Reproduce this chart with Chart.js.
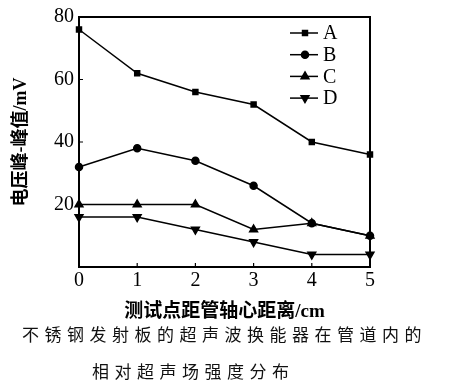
<!DOCTYPE html>
<html><head><meta charset="utf-8">
<script src="https://cdn.jsdelivr.net/npm/chart.js@4/dist/chart.umd.min.js"></script>
<style>
html,body{margin:0;padding:0;background:#fff;}
#wrap{position:relative;width:453px;height:383px;}
#box{position:absolute;left:0;top:0;width:453px;height:323px;}
.cap{position:absolute;font-family:"Noto Sans CJK SC",sans-serif;font-weight:400;font-size:17px;letter-spacing:5.5px;color:#111;white-space:nowrap;}
</style></head>
<body>
<div id="wrap">
<div id="box"><canvas id="c"></canvas></div>
<div class="cap" id="cap1" style="left:22px;top:321px;"></div>
<div class="cap" id="cap2" style="left:92px;top:358px;"></div>
</div>
<script>
const xValues = [0, 1, 2, 3, 4, 5];
const seriesA = [76, 62, 56, 52, 40, 36];
const seriesB = [32, 38, 34, 26, 14, 10];
const seriesC = [20, 20, 20, 12, 14, 10];
const seriesD = [16, 16, 12, 8, 4, 4];
const seriesNames = ["A", "B", "C", "D"];
const xTicks = [0, 1, 2, 3, 4, 5];
const yTicks = [0, 20, 40, 60, 80];
const xTitle = "测试点距管轴心距离/cm";
const yTitle = "电压峰-峰值/mV";
const caption1 = "不锈钢发射板的超声波换能器在管道内的";
const caption2 = "相对超声场强度分布";

document.getElementById('cap1').textContent = caption1;
document.getElementById('cap2').textContent = caption2;

const styles = [
  {pointStyle: 'rect', rotation: 0, radius: 3.5},
  {pointStyle: 'circle', rotation: 0, radius: 3.5},
  {pointStyle: 'triangle', rotation: 0, radius: 4.5},
  {pointStyle: 'triangle', rotation: 180, radius: 4.5}
];
const allSeries = [seriesA, seriesB, seriesC, seriesD];
const datasets = allSeries.map((s, i) => ({
  label: seriesNames[i],
  data: xValues.map((x, j) => ({x: x, y: s[j]})),
  borderColor: '#000',
  backgroundColor: '#000',
  borderWidth: 1.5,
  pointStyle: styles[i].pointStyle,
  rotation: styles[i].rotation,
  pointRadius: styles[i].radius,
  pointHoverRadius: styles[i].radius,
  tension: 0,
  clip: false
}));

const serif = '"Liberation Serif","Noto Sans CJK SC",serif';

const framePlugin = {
  id: 'frame',
  afterDraw(chart) {
    const ctx = chart.ctx, a = chart.chartArea;
    const xs = chart.scales.x, ys = chart.scales.y;
    ctx.save();
    ctx.strokeStyle = '#000';
    ctx.lineWidth = 2;
    ctx.strokeRect(a.left, a.top, a.right - a.left, a.bottom - a.top);
    ctx.lineWidth = 1.2;
    ctx.beginPath();
    xTicks.forEach(v => {
      if (v === xs.min || v === xs.max) return;
      const px = xs.getPixelForValue(v);
      ctx.moveTo(px, a.bottom); ctx.lineTo(px, a.bottom - 4);
    });
    yTicks.forEach(v => {
      if (v === ys.min || v === ys.max) return;
      const py = ys.getPixelForValue(v);
      ctx.moveTo(a.left, py); ctx.lineTo(a.left + 4, py);
    });
    ctx.stroke();
    // legend
    ctx.font = '20px ' + serif;
    ctx.textAlign = 'left';
    ctx.textBaseline = 'middle';
    ctx.fillStyle = '#000';
    chart.data.datasets.forEach((ds, i) => {
      const y = a.top + 16 + i * 21.7;
      const x0 = a.right - 80, x1 = a.right - 52;
      ctx.lineWidth = 1.5;
      ctx.beginPath(); ctx.moveTo(x0, y); ctx.lineTo(x1, y); ctx.stroke();
      Chart.helpers.drawPoint(ctx, {pointStyle: ds.pointStyle, rotation: ds.rotation, radius: ds.pointRadius, borderWidth: 1}, (x0 + x1) / 2 + 1, y);
      ctx.fillText(ds.label, a.right - 47, y + 1);
    });
    ctx.restore();
  }
};

new Chart(document.getElementById('c'), {
  type: 'line',
  data: {datasets: datasets},
  options: {
    responsive: true,
    maintainAspectRatio: false,
    animation: false,
    events: [],
    layout: {padding: {top: 11, right: 83, bottom: 0, left: 0}},
    plugins: {legend: {display: false}, tooltip: {enabled: false}},
    scales: {
      x: {
        type: 'linear', min: 0, max: 5,
        afterFit(s) { s.height = 56; },
        afterBuildTicks(s) { s.ticks = xTicks.map(v => ({value: v})); },
        grid: {display: false, drawTicks: false},
        border: {display: false},
        ticks: {color: '#000', font: {family: serif, size: 20}, padding: 2, maxRotation: 0},
        title: {display: true, text: xTitle, color: '#000', font: {family: serif, size: 19, weight: 'bold'}, padding: {top: 0, bottom: 0}}
      },
      y: {
        min: 0, max: 80,
        afterFit(s) { s.width = 79; },
        afterBuildTicks(s) { s.ticks = yTicks.map(v => ({value: v})); },
        grid: {display: false, drawTicks: false},
        border: {display: false},
        ticks: {color: '#000', font: {family: serif, size: 20}, padding: 5, callback: v => v === 0 ? '' : v},
        title: {display: true, text: yTitle, color: '#000', font: {family: serif, size: 18, weight: 'bold'}, padding: {top: 11, bottom: 0}}
      }
    }
  },
  plugins: [framePlugin]
});
</script>
</body></html>
